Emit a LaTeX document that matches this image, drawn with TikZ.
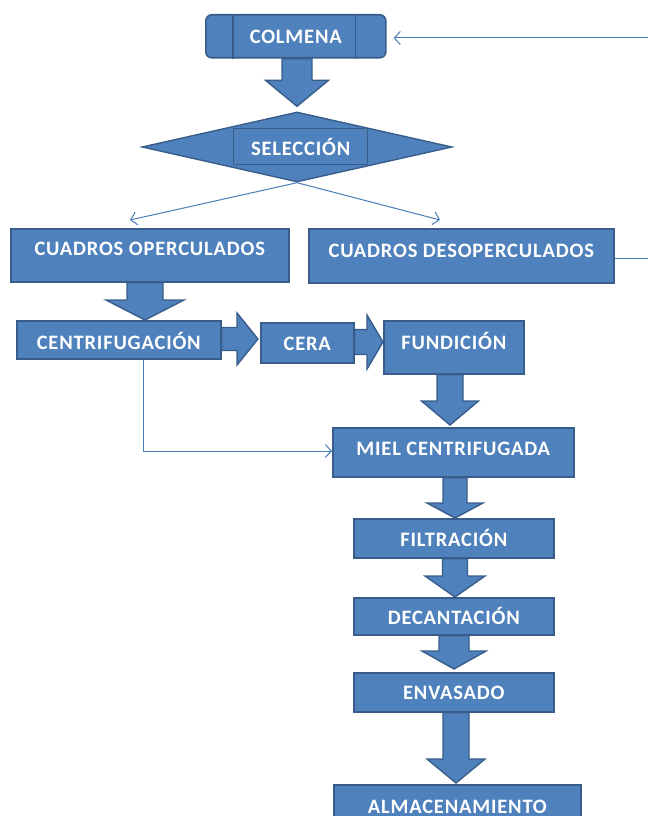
\documentclass[tikz,border=0pt]{standalone}
\usepackage{fontspec}
\setmainfont{Carlito}
\newfontfamily\boxfont[LetterSpace=4]{Carlito}
\usetikzlibrary{shapes.geometric,arrows.meta,calc}
\definecolor{fillc}{HTML}{4F81BD}
\definecolor{bdr}{HTML}{385D8A}
\definecolor{linec}{HTML}{4A7EBB}
\tikzset{
  box/.style={draw=bdr, fill=fillc, line width=1.6pt, inner xsep=0pt, inner ysep=0pt,
    anchor=north west, text=white, align=center,
    font=\boxfont\bfseries\fontsize{20.5}{23}\selectfont},
  barrow/.style={draw=bdr, fill=fillc, line width=1.4pt, line join=miter},
  conn/.style={draw=linec, line width=1pt, -{Straight Barb[length=6pt,width=13pt,line width=1pt]}},
  plain/.style={draw=linec, line width=1pt}
}
% vertical block arrow: x, from, to, shaft half, head half, head length
\newcommand{\vba}[6]{%
  \draw[barrow] let \p1=(#2), \p2=(#3), \p3=(#1,0) in
   (\x3-#4pt,\y1) -- (\x3+#4pt,\y1) -- (\x3+#4pt,\y2+#6pt) -- (\x3+#5pt,\y2+#6pt)
   -- (\x3,\y2) -- (\x3-#5pt,\y2+#6pt) -- (\x3-#4pt,\y2+#6pt) -- cycle;}
% horizontal block arrow: y, from, to, shaft half, head half, head length
\newcommand{\hba}[6]{%
  \draw[barrow] let \p1=(#2), \p2=(#3), \p3=(0,#1) in
   (\x1,\y3+#4pt) -- (\x2-#6pt,\y3+#4pt) -- (\x2-#6pt,\y3+#5pt) -- (\x2,\y3)
   -- (\x2-#6pt,\y3-#5pt) -- (\x2-#6pt,\y3-#4pt) -- (\x1,\y3-#4pt) -- cycle;}
\begin{document}
\begin{tikzpicture}[x=1pt,y=-1pt]
\useasboundingbox (0,0) rectangle (648,816);

% COLMENA
\node[box, rounded corners=6pt, minimum width=180pt, text height=29pt, text depth=14pt] (colmena) at (205,14) {COLMENA};
\draw[draw=bdr, line width=1.6pt] ($(colmena.north west)+(28,0)$) -- ($(colmena.south west)+(28,0)$);
\draw[draw=bdr, line width=1.6pt] ($(colmena.north east)+(-31,0)$) -- ($(colmena.south east)+(-31,0)$);

% SELECCION
\node[diamond, draw=bdr, fill=fillc, line width=1.4pt, inner sep=0pt, aspect=4.43,
      minimum width=310pt, minimum height=70pt] (selshape) at (297,147) {};
\node[box, line width=1.4pt, minimum width=134pt, text height=26.5pt, text depth=9.5pt] (sel) at (233,128) {SELECCIÓN};

% boxes
\node[box, minimum width=278pt, text height=26.5pt, text depth=26.5pt] (opc) at (10,228) {CUADROS OPERCULADOS};
\node[box, minimum width=305pt, text height=28.5pt, text depth=25.5pt] (des) at (308,228) {CUADROS DESOPERCULADOS};
\node[box, minimum width=204pt, text height=28.5pt, text depth=9.5pt] (cen) at (16,320) {CENTRIFUGACIÓN};
\node[box, minimum width=93pt, text height=27.5pt, text depth=12.5pt] (cera) at (260,322) {CERA};
\node[box, minimum width=140pt, text height=28.5pt, text depth=24.5pt] (fun) at (383,320) {FUNDICIÓN};
\node[box, minimum width=241pt, text height=27.5pt, text depth=21.5pt] (miel) at (332,427) {MIEL CENTRIFUGADA};
\node[box, minimum width=200pt, text height=27.5pt, text depth=11.5pt] (fil) at (353,518) {FILTRACIÓN};
\node[box, minimum width=200pt, text height=26.5pt, text depth=10.5pt] (dec) at (353,597) {DECANTACIÓN};
\node[box, minimum width=200pt, text height=26.5pt, text depth=12.5pt] (env) at (353,672) {ENVASADO};
\node[box, minimum width=247pt, text height=29pt, text depth=20pt] (alm) at (333,784) {ALMACENAMIENTO};

% block arrows
\vba{297}{colmena.south}{$(selshape.north)+(0,-5)$}{15}{31.5}{26}
\vba{145}{opc.south}{cen.north}{18}{39}{20}
\hba{339}{cen.east}{$(cera.west)+(-2,0)$}{11.5}{26}{21}
\hba{342}{cera.east}{fun.west}{12.5}{27}{16}
\vba{450}{fun.south}{$(miel.north)+(0,-2)$}{13}{28.5}{24}
\vba{455}{miel.south}{fil.north}{12}{28}{15}
\vba{455}{fil.south}{dec.north}{12.5}{30}{21}
\vba{454}{dec.south}{$(env.north)+(0,-3)$}{15}{32}{18}
\vba{456}{env.south}{$(alm.north)+(0,-1)$}{13}{29}{24}

% thin connectors
\coordinate (fb) at (648,38);
\draw[conn, shorten >=7pt] (fb) -- (colmena.east |- fb);
\coordinate (fr) at (648,258);
\draw[plain] (des.east |- fr) -- (fr);
\coordinate (sl) at (130,220);
\coordinate (sr) at (440,220);
\draw[conn] (selshape.south) -- (sl);
\draw[conn] (selshape.south) -- (sr);
\coordinate (cb) at (143,451);
\draw[conn] (cen.south -| cb) -- (cb) -- (miel.west |- cb);
\end{tikzpicture}
\end{document}
